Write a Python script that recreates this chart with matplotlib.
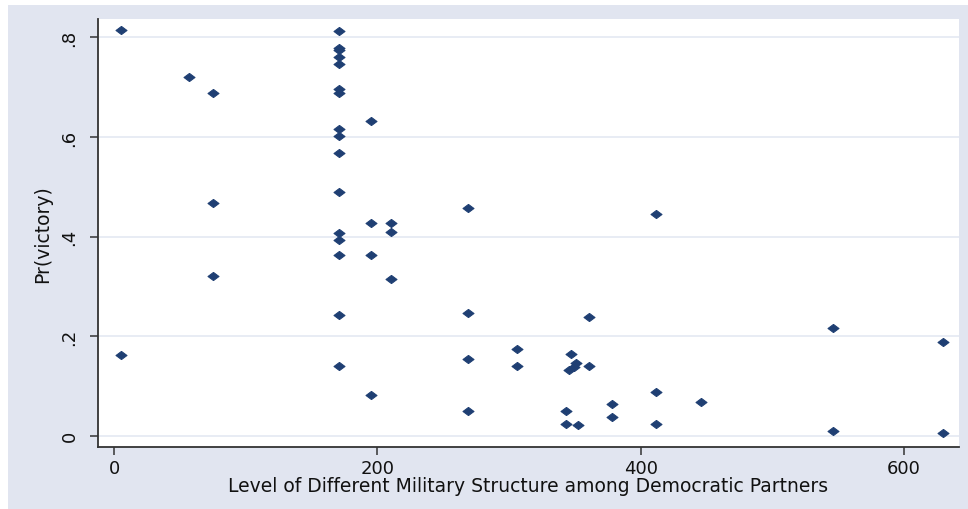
import matplotlib
matplotlib.use("Agg")
import matplotlib.pyplot as plt
import numpy as np
from matplotlib.patches import Rectangle
from matplotlib.path import Path

# Data
x_vals = [5, 5,
          57, 75, 75, 75,
          171, 171, 171, 171, 171, 171, 171, 171, 171, 171, 171, 171, 171, 171, 171, 171,
          195.5, 195.5, 195.5, 195.5,
          210.5, 210.5, 210.5,
          268.5, 268.5, 268.5, 268.5,
          306, 306,
          343, 343, 345.5, 347, 349, 351, 352.5, 361, 361,
          378, 378,
          412, 412, 412,
          446,
          546, 546,
          630, 630]
y_vals = [0.815, 0.162,
          0.721, 0.688, 0.468, 0.321,
          0.812, 0.779, 0.774, 0.760, 0.746, 0.696, 0.688, 0.617, 0.602, 0.568, 0.490, 0.408, 0.394, 0.363, 0.243, 0.141,
          0.632, 0.427, 0.363, 0.082,
          0.427, 0.410, 0.315,
          0.457, 0.246, 0.155, 0.049,
          0.174, 0.141,
          0.049, 0.024, 0.132, 0.164, 0.139, 0.146, 0.021, 0.141, 0.238,
          0.063, 0.038,
          0.445, 0.087, 0.024,
          0.068,
          0.216, 0.010,
          0.188, 0.005]

x_ticks = [0, 200, 400, 600]
x_ticklabels = ["0", "200", "400", "600"]
y_ticks = [0, 0.2, 0.4, 0.6, 0.8]
y_ticklabels = ["0", ".2", ".4", ".6", ".8"]

W, H = 968, 510
fig = plt.figure(figsize=(W / 100, H / 100), dpi=100, facecolor="white")
bg = Rectangle((8 / W, 0), (W - 8) / W, (H - 6) / H, transform=fig.transFigure,
               facecolor="#E1E5F0", edgecolor="none", zorder=-10)
fig.add_artist(bg)

ax = fig.add_axes([98 / W, (H - 447.7) / H, (959 - 98) / W, (447.7 - 20) / H])
ax.set_zorder(1)
ax.set_facecolor("white")
ax.set_xlim(-12.2, 641.8)
ax.set_ylim(-0.022, 0.837)

for t in y_ticks:
    ax.axhline(t, color="#E4E9F2", lw=1.2, zorder=1)

diamond = Path([(0, 1), (1.35, 0), (0, -1), (-1.35, 0), (0, 1)],
               [Path.MOVETO, Path.LINETO, Path.LINETO, Path.LINETO, Path.CLOSEPOLY])
ax.scatter(x_vals, y_vals, marker=diamond, s=64, color="#1F3F73",
           edgecolors="#1F3F73", linewidths=0.7, zorder=3)

for s in ["top", "right"]:
    ax.spines[s].set_visible(False)
for s in ["left", "bottom"]:
    ax.spines[s].set_color("#333333")
    ax.spines[s].set_linewidth(1.3)

ax.set_xticks(x_ticks)
ax.set_xticklabels(x_ticklabels)
ax.set_yticks(y_ticks)
ax.set_yticklabels(y_ticklabels, rotation=90, va="center")
ax.tick_params(axis="both", direction="out", length=6, width=1.1, color="#333333",
               labelsize=13, labelcolor="#111111")
ax.tick_params(axis="x", pad=3)
ax.tick_params(axis="y", pad=8)

ax.set_xlabel("Level of Different Military Structure among Democratic Partners",
              fontsize=13.5, color="#111111", labelpad=-1)
ax.set_ylabel("Pr(victory)", fontsize=13.5, color="#111111", labelpad=6)

fig.savefig("out.png", dpi=100, facecolor="white")
